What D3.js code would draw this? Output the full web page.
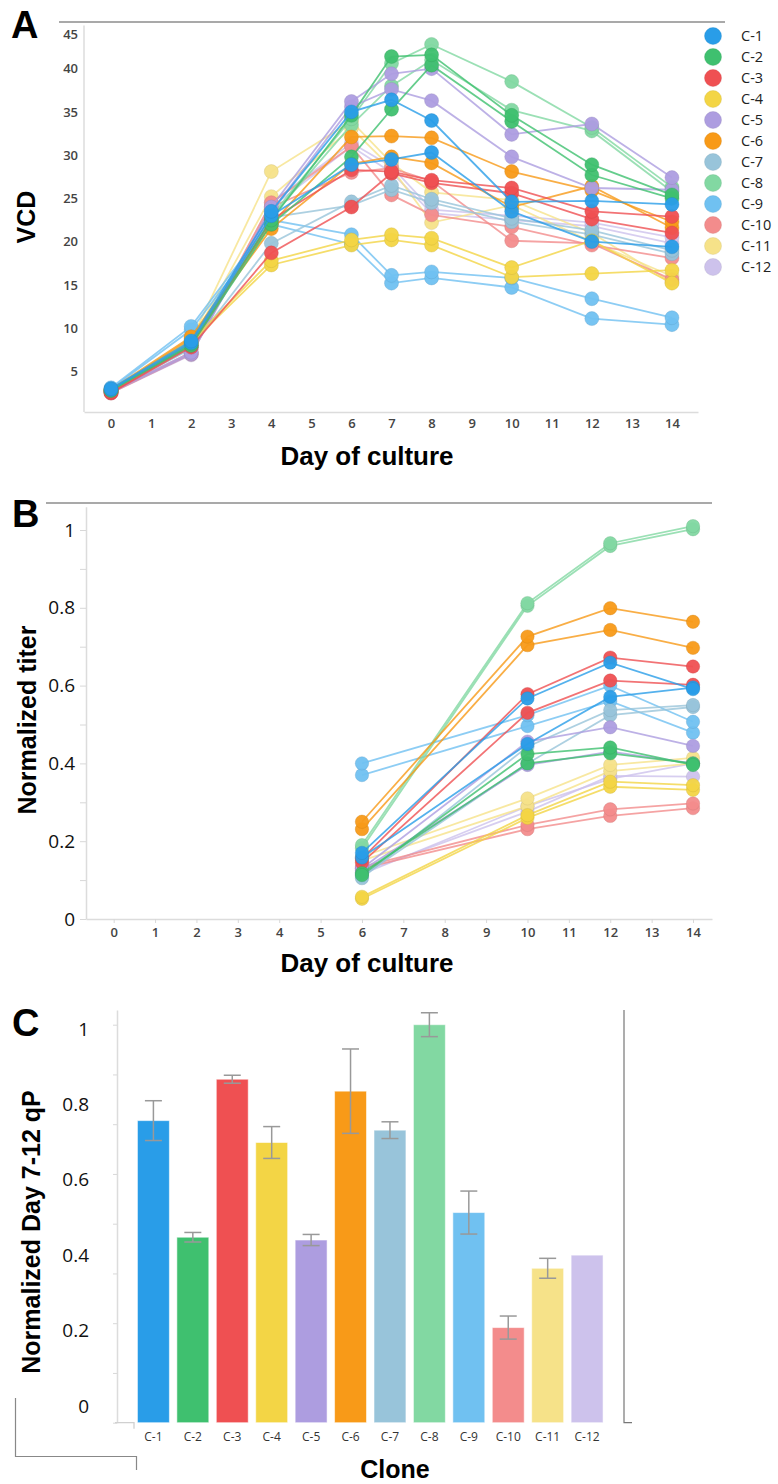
<!DOCTYPE html>
<html>
<head>
<meta charset="utf-8">
<script src="https://cdn.jsdelivr.net/npm/d3@7"></script>
<style>
  html, body { margin: 0; padding: 0; background: #fff; }
  svg { display: block; }
  .tickA text { font-family: "Open Sans", sans-serif; font-size: 13px; font-weight: 600; fill: #444; }
  .title { font-family: "Liberation Sans", Arial, sans-serif; font-weight: bold; fill: #000; }
</style>
</head>
<body>
<svg id="fig" width="778" height="1484"></svg>
<script>
// Clone identifiers and palette
const clones = ["C-1","C-2","C-3","C-4","C-5","C-6","C-7","C-8","C-9","C-10","C-11","C-12"];
const palette = ["#299de8","#3fc06f","#ef5052","#f3d545","#ad9de0","#f89a18",
                 "#98c4da","#82d8a2","#70c1f1","#f38c8c","#f6e289","#cdc2ec"];

// Panel A: viable cell density, two replicate cultures per clone
const vcdDays = [0, 2, 4, 6, 7, 8, 10, 12, 14];
const vcdRepA = [
  [3.0, 8.5, 23.5, 35.0, 36.4, 34.0, 24.6, 24.7, 24.3],
  [2.8, 8.2, 22.5, 34.6, 41.4, 41.6, 34.6, 28.9, 25.4],
  [2.6, 8.0, 22.5, 28.3, 28.1, 27.1, 26.2, 23.5, 22.9],
  [2.8, 8.5, 17.8, 20.2, 20.8, 20.4, 17.0, 20.1, 15.2],
  [2.7, 7.2, 24.0, 36.2, 39.4, 40.0, 32.4, 33.6, 27.4],
  [2.9, 9.0, 22.0, 32.1, 32.2, 32.0, 28.1, 25.9, 22.3],
  [2.8, 7.8, 19.8, 24.6, 26.5, 24.9, 22.7, 21.3, 19.0],
  [2.8, 8.0, 23.0, 34.2, 40.6, 42.8, 38.5, 33.2, 26.3],
  [3.1, 10.2, 22.5, 20.8, 16.1, 16.5, 15.8, 13.4, 11.2],
  [2.6, 7.2, 24.5, 31.0, 25.4, 23.1, 21.7, 19.6, 18.1],
  [2.8, 8.6, 28.1, 33.9, 29.1, 25.7, 24.8, 21.0, 15.3],
  [2.6, 7.0, 24.5, 31.4, 28.7, 23.7, 23.0, 22.2, 20.5]
];
const vcdRepB = [
  [2.9, 8.3, 23.0, 28.9, 29.5, 30.3, 23.5, 20.0, 19.4],
  [2.8, 8.0, 22.0, 29.8, 35.3, 40.4, 33.9, 27.7, 25.0],
  [2.5, 7.8, 18.7, 24.0, 27.9, 26.8, 25.6, 22.6, 21.0],
  [2.7, 8.3, 17.3, 19.6, 20.2, 19.6, 15.9, 16.3, 16.7],
  [2.6, 7.0, 23.5, 35.6, 37.6, 36.3, 29.8, 26.2, 26.0],
  [2.8, 8.8, 21.5, 29.0, 29.8, 29.1, 24.0, 26.4, 21.6],
  [2.7, 7.6, 22.8, 24.2, 26.0, 24.5, 22.3, 20.8, 18.6],
  [2.7, 7.8, 22.8, 33.5, 38.0, 41.0, 35.2, 32.8, 25.8],
  [3.0, 9.8, 22.0, 19.7, 15.2, 15.8, 14.7, 11.1, 10.4],
  [2.5, 7.0, 24.0, 28.0, 28.5, 27.0, 20.1, 19.8, 15.6],
  [2.7, 8.4, 25.2, 33.1, 28.5, 22.2, 24.2, 20.0, 16.0],
  [2.5, 6.9, 24.0, 31.0, 28.0, 23.3, 22.5, 21.8, 19.8]
];
const vcdTicks = [5, 10, 15, 20, 25, 30, 35, 40, 45];

// Panel B: normalized titer
const titerDays = [6, 10, 12, 14];
const titerRepA = [
  [0.170, 0.567, 0.659, 0.591],
  [0.113, 0.424, 0.441, 0.396],
  [0.155, 0.578, 0.672, 0.649],
  [0.057, 0.267, 0.353, 0.344],
  [0.130, 0.456, 0.493, 0.445],
  [0.250, 0.726, 0.799, 0.764],
  [0.105, 0.443, 0.537, 0.550],
  [0.190, 0.812, 0.966, 1.010],
  [0.400, 0.524, 0.600, 0.507],
  [0.134, 0.242, 0.282, 0.297],
  [0.160, 0.310, 0.396, 0.414],
  [0.120, 0.276, 0.368, 0.366]
];
const titerRepB = [
  [0.158, 0.450, 0.571, 0.595],
  [0.118, 0.400, 0.426, 0.400],
  [0.145, 0.530, 0.613, 0.602],
  [0.052, 0.260, 0.340, 0.332],
  [0.125, 0.396, 0.430, 0.400],
  [0.231, 0.704, 0.743, 0.697],
  [0.110, 0.400, 0.524, 0.545],
  [0.182, 0.805, 0.959, 1.002],
  [0.370, 0.496, 0.560, 0.479],
  [0.130, 0.231, 0.265, 0.285],
  [0.150, 0.290, 0.380, 0.400],
  [0.115, 0.290, 0.360, 0.400]
];

// Panel C: normalized day 7-12 specific productivity, mean and error
const qpMean = [0.759, 0.466, 0.863, 0.704, 0.459, 0.833, 0.735, 1.000, 0.528, 0.239, 0.388, 0.421];
const qpErr  = [0.050, 0.012, 0.010, 0.040, 0.014, 0.106, 0.021, 0.030, 0.054, 0.029, 0.025, 0];
const qpLabelTicks = [0, 0.2, 0.4, 0.6, 0.8, 1];

const svg = d3.select("#fig");
const dayTicks = d3.range(0, 15);

function ptStroke(c) { return d3.color(c).darker(0.5).formatHex(); }

function drawSeries(g, days, repA, repB, x, y, r) {
  const line = d3.line().x((d, i) => x(days[i])).y(d => y(d));
  // later clones first so C-1 ends up on top
  for (let k = clones.length - 1; k >= 0; k--) {
    const col = palette[k];
    [repB[k], repA[k]].forEach(vals => {
      g.append("path").datum(vals)
        .attr("d", line)
        .attr("fill", "none")
        .attr("stroke", col)
        .attr("stroke-width", 1.8)
        .attr("stroke-opacity", 0.8);
    });
    [repB[k], repA[k]].forEach(vals => {
      g.selectAll(null).data(vals).enter().append("circle")
        .attr("cx", (d, i) => x(days[i]))
        .attr("cy", d => y(d))
        .attr("r", r)
        .attr("fill", col)
        .attr("fill-opacity", 0.95)
        .attr("stroke", ptStroke(col))
        .attr("stroke-opacity", 0.35)
        .attr("stroke-width", 1);
    });
  }
}

/* ---------------- Panel A ---------------- */
{
  const g = svg.append("g");
  const x = d3.scaleLinear().domain([-0.675, 14.65]).range([84, 698]);
  const y = d3.scaleLinear().domain([0, 45]).range([414.6, 25.4]);

  g.append("line").attr("x1", 59).attr("x2", 725).attr("y1", 22).attr("y2", 22)
    .attr("stroke", "#555").attr("stroke-width", 1.2);
  g.append("text").attr("class", "title").attr("x", 11).attr("y", 38)
    .attr("font-size", 38).text("A");

  const ya = g.append("g").attr("class", "tickA").attr("transform", "translate(84,0)")
    .call(d3.axisLeft(y).tickValues(vcdTicks).tickSize(0).tickPadding(6));
  ya.select(".domain").attr("stroke", "#dcdcdc").attr("stroke-width", 1.5)
    .attr("d", `M0,${y(45)}V412`);
  ya.selectAll(".tick text").filter(d => d === 45).attr("dy", "1.0em");

  const xa = g.append("g").attr("class", "tickA").attr("transform", "translate(0,412)")
    .call(d3.axisBottom(x).tickValues(dayTicks).tickSize(0).tickPadding(7).tickSizeOuter(0));
  xa.select(".domain").attr("stroke", "#dcdcdc").attr("stroke-width", 1.5);

  drawSeries(g, vcdDays, vcdRepA, vcdRepB, x, y, 7);

  g.append("text").attr("class", "title").attr("font-size", 25)
    .attr("text-anchor", "middle").attr("x", 367).attr("y", 465)
    .attr("textLength", 173).attr("lengthAdjust", "spacingAndGlyphs")
    .text("Day of culture");
  g.append("text").attr("class", "title").attr("font-size", 25)
    .attr("text-anchor", "middle")
    .attr("transform", "translate(35,217) rotate(-90)").text("VCD");

  // legend
  const lg = g.append("g");
  clones.forEach((c, i) => {
    const cy = 36 + i * 21;
    lg.append("circle").attr("cx", 713).attr("cy", cy).attr("r", 8.5)
      .attr("fill", palette[i]).attr("stroke", ptStroke(palette[i]))
      .attr("stroke-opacity", 0.3);
    lg.append("text").attr("x", 741).attr("y", cy).attr("dy", "0.36em")
      .attr("font-family", "Open Sans, sans-serif").attr("font-size", 14.5)
      .attr("fill", "#222").text(c);
  });
}

/* ---------------- Panel B ---------------- */
{
  const g = svg.append("g");
  const x = d3.scaleLinear().domain([-0.669, 14.459]).range([86, 712]);
  const y = d3.scaleLinear().domain([0, 1.06]).range([919, 919 - 389 * 1.06]);

  g.append("line").attr("x1", 46).attr("x2", 712).attr("y1", 503).attr("y2", 503)
    .attr("stroke", "#555").attr("stroke-width", 1.2);
  g.append("text").attr("class", "title").attr("x", 12).attr("y", 527)
    .attr("font-size", 38).text("B");

  const yb = g.append("g").attr("transform", "translate(86,0)")
    .call(d3.axisLeft(y).tickValues(d3.range(0, 11).map(i => i / 10))
      .tickSize(6).tickPadding(5).tickSizeOuter(0)
      .tickFormat(d => (Math.round(d * 10) % 2 ? "" : String(+d.toFixed(1)))));
  yb.select(".domain").attr("stroke", "#dcdcdc").attr("stroke-width", 1.5);
  yb.selectAll(".tick line").attr("stroke", "#d8d8d8");
  yb.selectAll(".tick text").attr("font-family", "Open Sans, sans-serif")
    .attr("font-size", 19).attr("fill", "#111");

  const xb = g.append("g").attr("class", "tickA").attr("transform", "translate(0,919)")
    .call(d3.axisBottom(x).tickValues(dayTicks).tickSize(4).tickPadding(5).tickSizeOuter(0));
  xb.select(".domain").attr("stroke", "#dcdcdc").attr("stroke-width", 1.5);
  xb.selectAll(".tick line").attr("stroke", "#d8d8d8");

  drawSeries(g, titerDays, titerRepA, titerRepB, x, y, 6.7);

  g.append("text").attr("class", "title").attr("font-size", 25)
    .attr("text-anchor", "middle").attr("x", 367).attr("y", 972)
    .attr("textLength", 173).attr("lengthAdjust", "spacingAndGlyphs")
    .text("Day of culture");
  g.append("text").attr("class", "title").attr("font-size", 25)
    .attr("text-anchor", "middle")
    .attr("transform", "translate(36,720) rotate(-90)").text("Normalized titer");
}

/* ---------------- Panel C ---------------- */
{
  const g = svg.append("g");
  const x = d3.scaleBand().domain(clones).range([133.5, 607]).paddingInner(0.19).paddingOuter(0.1);
  const y = d3.scaleLinear().domain([0, 1.037]).range([1422.7, 1422.7 - 398 * 1.037]);
  // tick labels sit on their own slightly offset ladder
  const yLab = d3.scaleLinear().domain([0, 1]).range([1406, 1029]);

  g.append("text").attr("class", "title").attr("x", 12).attr("y", 1036)
    .attr("font-size", 38).text("C");

  const yc = g.append("g").attr("transform", "translate(117,0)")
    .call(d3.axisLeft(y).tickValues(d3.range(0, 9).map(i => i * 0.125))
      .tickSize(4).tickFormat("").tickSizeOuter(0));
  yc.select(".domain").attr("stroke", "#dcdcdc").attr("stroke-width", 1.5);
  yc.selectAll(".tick line").attr("stroke", "#d8d8d8");

  g.selectAll(null).data(qpLabelTicks).enter().append("text")
    .attr("x", 89).attr("y", d => yLab(d)).attr("dy", "0.35em")
    .attr("text-anchor", "end").attr("font-family", "Open Sans, sans-serif")
    .attr("font-size", 19).attr("fill", "#111")
    .text(d => String(d));

  // short baseline stub and tick
  g.append("path").attr("d", `M115,${y(0)}H134V${y(0) + 6}`)
    .attr("fill", "none").attr("stroke", "#d0d0d0").attr("stroke-width", 1.3);

  // right frame line
  g.append("path").attr("d", `M624,${y(1.037)}V${y(0)}H632`)
    .attr("fill", "none").attr("stroke", "#777").attr("stroke-width", 1.2);

  // bottom-left bracket
  g.append("path").attr("d", "M15.5,1398V1456.5H136.5V1470")
    .attr("fill", "none").attr("stroke", "#888").attr("stroke-width", 1.2);

  g.selectAll(null).data(qpMean).enter().append("rect")
    .attr("x", (d, i) => x(clones[i]))
    .attr("y", d => y(d))
    .attr("width", x.bandwidth())
    .attr("height", d => y(0) - y(d))
    .attr("fill", (d, i) => palette[i])
    .attr("stroke", "rgba(255,255,255,0.55)")
    .attr("stroke-width", 1);

  const eb = g.selectAll(null).data(qpMean.map((m, i) => ({ m, e: qpErr[i], c: clones[i] })).filter(d => d.e > 0))
    .enter().append("g").attr("stroke", "#999").attr("stroke-width", 1.5);
  eb.append("line")
    .attr("x1", d => x(d.c) + x.bandwidth() / 2).attr("x2", d => x(d.c) + x.bandwidth() / 2)
    .attr("y1", d => y(d.m + d.e)).attr("y2", d => y(d.m - d.e));
  eb.append("line")
    .attr("x1", d => x(d.c) + x.bandwidth() / 2 - 8.5).attr("x2", d => x(d.c) + x.bandwidth() / 2 + 8.5)
    .attr("y1", d => y(d.m + d.e)).attr("y2", d => y(d.m + d.e));
  eb.append("line")
    .attr("x1", d => x(d.c) + x.bandwidth() / 2 - 8.5).attr("x2", d => x(d.c) + x.bandwidth() / 2 + 8.5)
    .attr("y1", d => y(d.m - d.e)).attr("y2", d => y(d.m - d.e));

  const xc = g.append("g").attr("transform", `translate(0,${y(0)})`)
    .call(d3.axisBottom(x).tickSize(0).tickPadding(10));
  xc.select(".domain").remove();
  xc.selectAll(".tick text").attr("font-family", "Open Sans, sans-serif")
    .attr("font-size", 12).attr("fill", "#333");

  g.append("text").attr("class", "title").attr("font-size", 25)
    .attr("text-anchor", "middle").attr("x", 395).attr("y", 1478).text("Clone");
  g.append("text").attr("class", "title").attr("font-size", 25)
    .attr("text-anchor", "middle")
    .attr("transform", "translate(40,1232) rotate(-90)").text("Normalized Day 7-12 qP");
}
</script>
</body>
</html>
